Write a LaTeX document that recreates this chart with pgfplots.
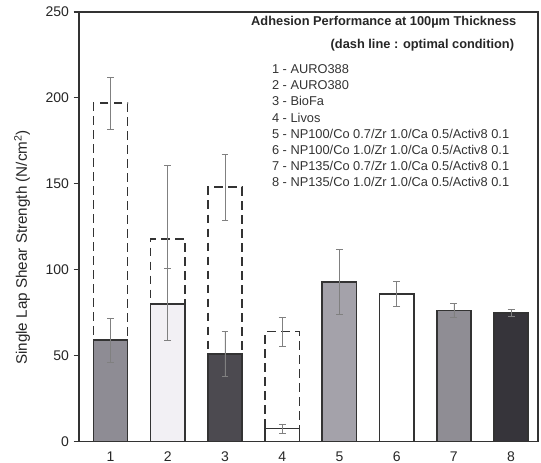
\documentclass[border=0pt]{standalone}
\usepackage{fontspec}
\setmainfont{Liberation Sans}
\usepackage{pgfplots}
\pgfplotsset{compat=1.18}

\definecolor{c1}{HTML}{8E8C94}
\definecolor{c2}{HTML}{F2F0F4}
\definecolor{c3}{HTML}{4C4A50}
\definecolor{c5}{HTML}{A4A2AA}
\definecolor{c7}{HTML}{8F8D94}
\definecolor{c8}{HTML}{36343A}

\pgfplotsset{
  solidbar/.style={ybar, bar width=0.6, bar shift=0pt, draw=black!80, line width=1.2pt},
  dashbar/.style={ybar, bar width=0.6, bar shift=0pt, draw=black!80, line width=1.2pt,
    dash pattern=on 6.5pt off 4pt, fill=none},
  errb/.style={error bars/.cd, y dir=both, y explicit,
    error mark=-,
    error bar style={solid, gray, line width=0.5pt},
    error mark options={solid, gray, line width=0.5pt, mark size=2.6pt, rotate=90}},
}

\begin{document}
\begin{tikzpicture}
\begin{axis}[
  scale only axis,
  width=344pt, height=322pt,
  xmin=0.45, xmax=8.47,
  ymin=0, ymax=250,
  xtick={1,2,...,8},
  ytick={0,50,...,250},
  xtick pos=bottom, ytick pos=left,
  tick align=outside,
  major tick length=4pt,
  x tick style={draw=none},
  y tick style={black!80, line width=0.8pt},
  axis line style={black!80, line width=1.1pt},
  tick label style={font=\fontsize{10.5}{12}\selectfont, text=black!85},
  /pgf/number format/assume math mode=true,
  ylabel={Single Lap Shear Strength (N/cm\textsuperscript{2})},
  ylabel style={font=\fontsize{11.4}{13}\selectfont, text=black!85,
    at={(axis description cs:-0.124,0.452)}, anchor=center},
  clip=false,
]
% optimal condition (dashed)
\addplot[dashbar, errb] coordinates {(1,197) +- (0,15)};
\addplot[dashbar, errb] coordinates {(2,118) +- (0,43)};
\addplot[dashbar, errb] coordinates {(3,148) +- (0,19)};
\addplot[dashbar, errb] coordinates {(4,64) +- (0,8.5)};
% measured
\addplot[solidbar, fill=c1, errb] coordinates {(1,59) +- (0,13)};
\addplot[solidbar, fill=c2, errb] coordinates {(2,80) +- (0,21)};
\addplot[solidbar, fill=c3, errb] coordinates {(3,51) +- (0,13)};
\addplot[solidbar, fill=white, errb] coordinates {(4,7.6) +- (0,2.7)};
\addplot[solidbar, fill=c5, errb] coordinates {(5,93) +- (0,19)};
\addplot[solidbar, fill=white, errb] coordinates {(6,86) +- (0,7)};
\addplot[solidbar, fill=c7, errb] coordinates {(7,76.3) +- (0,4)};
\addplot[solidbar, fill=c8, errb] coordinates {(8,74.8) +- (0,2)};

\node[anchor=east, font=\bfseries\fontsize{9.6}{11}\selectfont, text=black!85]
  at (rel axis cs:0.963,0.976) {Adhesion Performance at 100\textmu m Thickness};
\node[anchor=east, font=\bfseries\fontsize{9.6}{11}\selectfont, text=black!85]
  at (rel axis cs:0.958,0.922) {(dash line : optimal condition)};
\node[anchor=north west, align=left, inner sep=0pt,
  font=\fontsize{9.6}{12.1}\selectfont, text=black!80]
  at (rel axis cs:0.42,0.878) {1 - AURO388\\ 2 - AURO380\\ 3 - BioFa\\ 4 - Livos\\
  5 - NP100/Co 0.7/Zr 1.0/Ca 0.5/Activ8 0.1\\
  6 - NP100/Co 1.0/Zr 1.0/Ca 0.5/Activ8 0.1\\
  7 - NP135/Co 0.7/Zr 1.0/Ca 0.5/Activ8 0.1\\
  8 - NP135/Co 1.0/Zr 1.0/Ca 0.5/Activ8 0.1};
\end{axis}
\pgfresetboundingbox
\path ([shift={(-59.25pt,-15.75pt)}]current axis.south west)
  rectangle ([shift={(2.25pt,9pt)}]current axis.north east);
\end{tikzpicture}
\end{document}
